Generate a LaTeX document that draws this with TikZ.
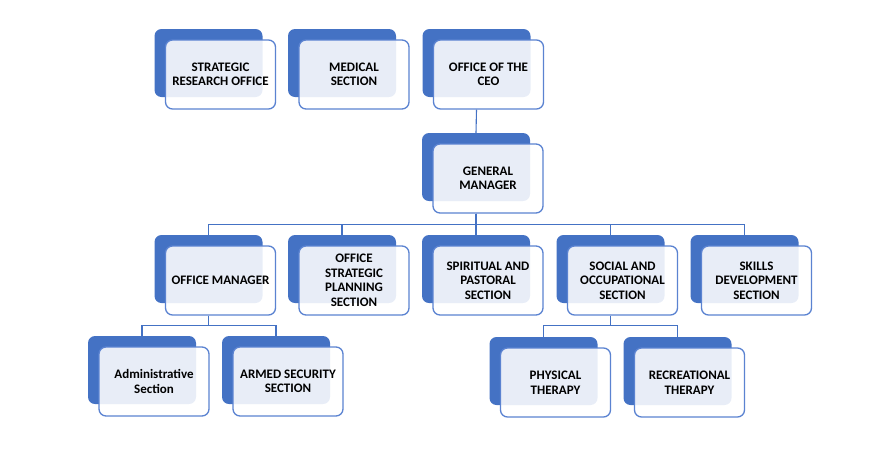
\documentclass[tikz,border=0pt]{standalone}
\usepackage{fontspec}
\setmainfont{Carlito}
\usetikzlibrary{positioning, calc}
\definecolor{orgblue}{HTML}{4472C4}
\definecolor{orgline}{HTML}{5B83D1}
\tikzset{
  back/.style={fill=orgblue, rounded corners=7pt, minimum width=108pt,
    minimum height=68pt, inner sep=0pt},
  front/.style={draw=orgline, line width=1.3pt, fill=white, fill opacity=0.88,
    text opacity=1, rounded corners=7pt, minimum width=110pt, minimum height=69pt,
    inner sep=2pt, align=center, text=black,
    font=\bfseries\fontsize{13}{14.5}\selectfont},
  link/.style={draw=orgblue, line width=1.1pt},
}
\begin{document}
\begin{tikzpicture}[x=1pt, y=-1pt]
  \useasboundingbox (0,0) rectangle (870,456);
  % boxes: back block, then the front card over it
  \foreach \n/\x/\y/\t in {
      sro/208.5/63/{STRATEGIC\\RESEARCH OFFICE},
      med/342/63/{MEDICAL\\SECTION},
      ceo/476.5/63/{OFFICE OF THE\\CEO},
      gm/476/167/{GENERAL\\MANAGER},
      om/208.5/269/{OFFICE MANAGER},
      osp/342/269/{OFFICE\\STRATEGIC\\PLANNING\\SECTION},
      spr/476/269/{SPIRITUAL AND\\PASTORAL\\SECTION},
      soc/610.5/269/{SOCIAL AND\\OCCUPATIONAL\\SECTION},
      skl/744.5/269/{SKILLS\\DEVELOPMENT\\SECTION},
      adm/142/370/{Administrative\\Section},
      arm/276/370/{ARMED SECURITY\\SECTION},
      phy/543.5/371/{PHYSICAL\\THERAPY},
      rec/677.5/371/{RECREATIONAL\\THERAPY}}
  {
    \node[back] (\n-b) at (\x,\y) {};
    \node[front] (\n) at (\x+12,\y+11.5) {\t};
  }
  % connectors
  \draw[link] (ceo-b |- ceo.south) -- (gm-b.north);
  \foreach \c in {om,osp,spr,soc,skl}
    \draw[link] (gm-b |- gm.south) -- ++(0,11) -| (\c-b.north);
  \foreach \c in {adm,arm}
    \draw[link] (om-b |- om.south) -- ++(0,10) -| (\c-b.north);
  \foreach \c in {phy,rec}
    \draw[link] (soc-b |- soc.south) -- ++(0,10) -| (\c-b.north);
\end{tikzpicture}
\end{document}
